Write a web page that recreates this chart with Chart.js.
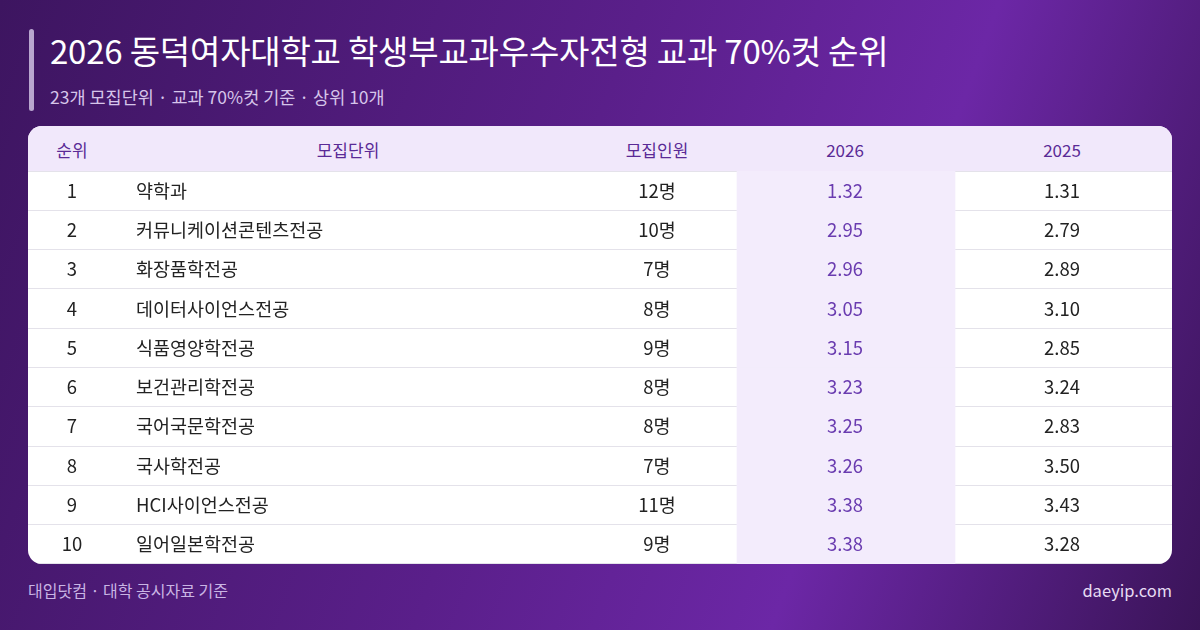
<!DOCTYPE html>
<html><head><meta charset="utf-8">
<script src="https://cdn.jsdelivr.net/npm/chart.js@4"></script>
<style>
  body { margin:0; width:1200px; height:630px; overflow:hidden; font-family:"Noto Sans CJK KR","Noto Sans",sans-serif;
    background: linear-gradient(110deg,#3d1560 0%,#5a1f8a 45%,#6c27a6 70%,#3a1458 100%); position:relative; }
  .bar { position:absolute; left:29px; top:29px; width:5px; height:82px; background:#b9a6cf; border-radius:3px; }
  .title { position:absolute; left:50px; top:26px; color:#fff; font-size:33px; font-weight:400; letter-spacing:-0.2px; }
  .sub { position:absolute; left:50px; top:84px; color:#d6c5ea; font-size:17.5px; }
  .card { position:absolute; left:28px; top:126px; width:1144px; height:438px; background:#fff; border-radius:14px; overflow:hidden; }
  .head { position:absolute; left:0; top:0; width:1144px; height:45px; background:#f1e8fb; color:#5a2a96; font-size:17px; }
  .head span { position:absolute; top:11px; transform:translateX(-50%); }
  .wrap { position:absolute; left:0; top:45px; width:1144px; height:393px; }
  .foot { position:absolute; top:578px; color:#c9b5e4; font-size:16px; }
</style></head>
<body>
<div class="bar"></div>
<div class="title">2026 동덕여자대학교 학생부교과우수자전형 교과 70%컷 순위</div>
<div class="sub">23개 모집단위 · 교과 70%컷 기준 · 상위 10개</div>
<div class="card">
  <div class="head">
    <span style="left:44px">순위</span><span style="left:320px">모집단위</span>
    <span style="left:629px">모집인원</span><span style="left:817px">2026</span><span style="left:1034px">2025</span>
  </div>
  <div class="wrap"><canvas id="c"></canvas></div>
</div>
<div class="foot" style="left:28px">대입닷컴 · 대학 공시자료 기준</div>
<div class="foot" style="right:28px;color:#e6dcf3;font-size:16.5px">daeyip.com</div>
<script>
// ========== DATA ==========
const ranks = [1,2,3,4,5,6,7,8,9,10];
const units = ['약학과','커뮤니케이션콘텐츠전공','화장품학전공','데이터사이언스전공','식품영양학전공','보건관리학전공','국어국문학전공','국사학전공','HCI사이언스전공','일어일본학전공'];
const quota = [12,10,7,8,9,8,8,7,11,9];
const cut2026 = [1.32,2.95,2.96,3.05,3.15,3.23,3.25,3.26,3.38,3.38];
const cut2025 = [1.31,2.79,2.89,3.10,2.85,3.24,2.83,3.50,3.43,3.28];

// column layout (x scale units = card px)
const colRank = 44, colName = 108, colQuota = 629, colHiL = 709, colHiR = 927, col26 = 817, col25 = 1034;

const cellText = {
  id: 'cellText',
  afterDatasetsDraw(chart) {
    const { ctx, scales: { x, y } } = chart;
    ctx.save();
    ctx.font = '18.5px "Noto Sans CJK KR", "Noto Sans", sans-serif';
    ctx.textBaseline = 'middle';
    ranks.forEach((r, i) => {
      const py = y.getPixelForValue(i);
      ctx.fillStyle = '#222';
      ctx.textAlign = 'center';
      ctx.fillText(r, x.getPixelForValue(colRank), py);
      ctx.textAlign = 'left';
      ctx.fillText(units[i], x.getPixelForValue(colName), py);
      ctx.textAlign = 'center';
      ctx.fillText(quota[i] + '명', x.getPixelForValue(colQuota), py);
      ctx.fillStyle = '#6a3cb0';
      ctx.fillText(cut2026[i].toFixed(2), x.getPixelForValue(col26), py);
      ctx.fillStyle = '#222';
      ctx.fillText(cut2025[i].toFixed(2), x.getPixelForValue(col25), py);
    });
    ctx.restore();
  }
};

new Chart(document.getElementById('c'), {
  type: 'bar',
  data: {
    labels: units,
    datasets: [{
      data: units.map(() => [colHiL, colHiR]),
      backgroundColor: '#f3ecfc',
      barPercentage: 1, categoryPercentage: 1
    }]
  },
  options: {
    indexAxis: 'y',
    responsive: true, maintainAspectRatio: false, animation: false,
    layout: { padding: 0 },
    plugins: { legend: { display: false }, tooltip: { enabled: false } },
    scales: {
      x: { type: 'linear', min: 0, max: 1144, display: false },
      y: {
        offset: true,
        ticks: { display: false },
        border: { display: false },
        grid: { color: '#e4e2ea', offset: true, drawTicks: false },
        afterFit(s) { s.width = 0; }
      }
    }
  },
  plugins: [cellText]
});
</script>
</body></html>
